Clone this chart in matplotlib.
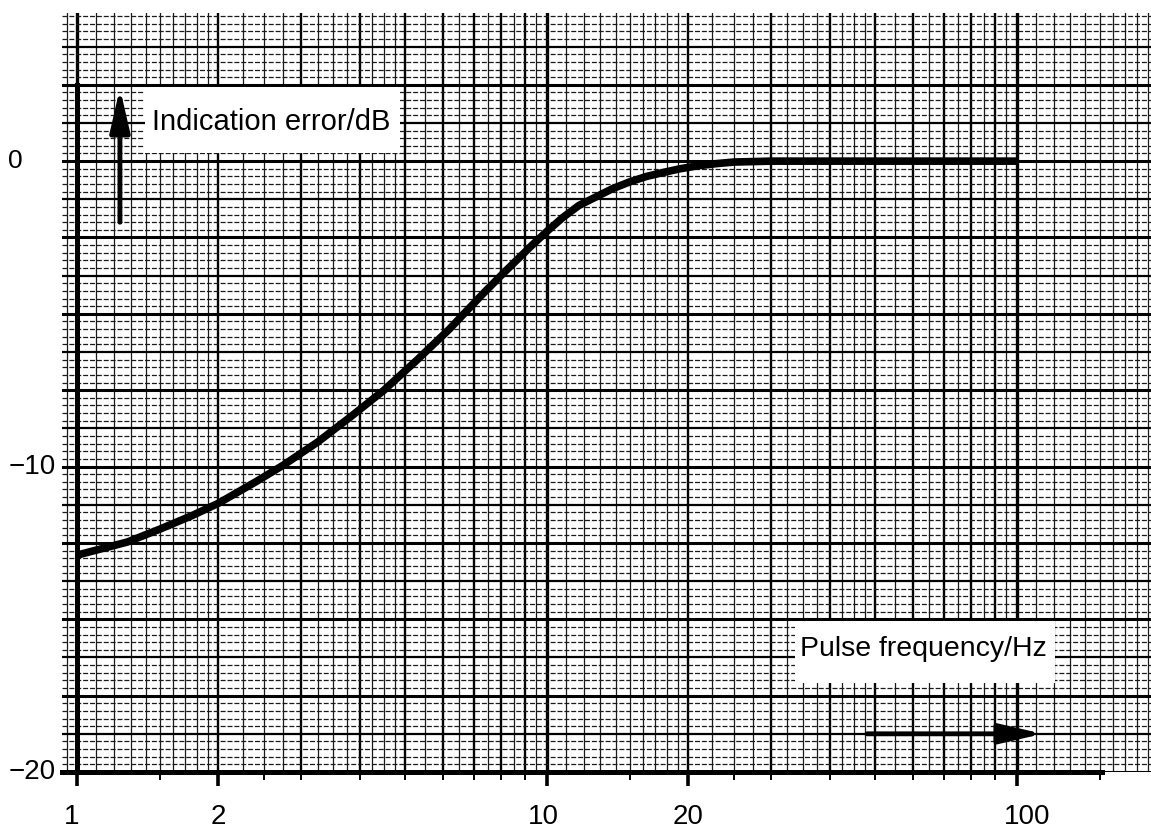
import matplotlib
matplotlib.use("Agg")

import matplotlib.pyplot as plt
import numpy as np
from matplotlib.patches import Rectangle
from matplotlib.transforms import blended_transform_factory, offset_copy

# indication error of the meter against pulse repetition frequency
freq_hz = [1.0, 1.28, 1.5, 1.76, 2.0, 2.4, 2.75, 3.25, 3.8, 4.5, 5.3, 6.2,
           7.3, 8.1, 9.3, 10.0, 10.8, 11.7, 12.8, 13.8, 15.0, 16.3, 17.7,
           19.2, 21.0, 23.0, 25.0, 30.0, 50.0, 100.0]
error_db = [-12.9, -12.47, -12.05, -11.6, -11.2, -10.5, -9.95, -9.2, -8.4,
            -7.5, -6.5, -5.5, -4.35, -3.65, -2.75, -2.3, -1.85, -1.45,
            -1.15, -0.9, -0.68, -0.5, -0.37, -0.25, -0.15, -0.08, -0.03,
            0.0, 0.0, 0.0]

x_ticks = [1, 2, 10, 20, 100]
x_tick_labels = ["1", "2", "10", "20", "100"]
x_label_shift = [-5, 0, -4, 0, 10]          # pixel nudges of the printed numbers
x_minor_ticks = [1.5, 2.5, 3, 4, 5, 6, 7, 8, 9, 15, 25, 30, 40, 50, 60,
                 70, 80, 90, 150]
y_ticks = [-20, -10, 0]
y_tick_labels = ["\u221220", "\u221210", "0"]

Y_LABEL = "Indication error/dB"
X_LABEL = "Pulse frequency/Hz"

XMIN, XMAX = 0.929, 193.0
YMIN, YMAX = -20.0, 4.85

NUM_FONT = ["Liberation Sans Narrow", "Liberation Sans", "DejaVu Sans"]
TXT_FONT = ["Liberation Sans", "DejaVu Sans"]

W, H = 1151, 832
fig = plt.figure(figsize=(W / 100, H / 100), dpi=100)
fig.patch.set_facecolor("white")
ax = fig.add_axes([62 / W, 60 / H, (W - 62) / W, (772 - 13) / H])
ax.set_xscale("log")
ax.set_xlim(XMIN, XMAX)
ax.set_ylim(YMIN, YMAX)

# --- semi-log graph paper -------------------------------------------------
for base in [0.1, 1, 10, 100]:
    fine = np.concatenate([np.arange(1, 2, 0.1), np.arange(2, 5, 0.25),
                           np.arange(5, 10, 0.5)]) * base
    for x in fine:
        if XMIN <= x <= XMAX and not np.isclose(x / base, round(x / base)):
            ax.axvline(x, color="0.1", lw=0.9, zorder=1)
    for m in range(2, 10):
        x = m * base
        if XMIN <= x <= XMAX:
            ax.axvline(x, color="black", lw=1.7, zorder=1)
    if XMIN <= base <= XMAX:
        ax.axvline(base, color="black", lw=2.4, zorder=1)

for k in range(0, int(round((YMAX - YMIN) / 0.25)) + 1):
    y = YMIN + k * 0.25
    if k % 10 == 0:
        ax.axhline(y, color="black", lw=2.2, zorder=1)
    elif k % 5 == 0:
        ax.axhline(y, color="black", lw=1.6, zorder=1)
    else:
        ax.axhline(y, color="0.1", lw=0.9, ls=(0, (4, 1.5)), zorder=1)

# --- label boxes blanking the paper ----------------------------------------
ax.add_patch(Rectangle((1.395, 0.26), 4.87 - 1.395, 2.42 - 0.26,
                       facecolor="white", edgecolor="none", zorder=2))
ax.text(1.443, 1.28, Y_LABEL, family=TXT_FONT, fontsize=21,
        ha="left", va="center", zorder=3)

ax.add_patch(Rectangle((33.8, -17.1), 120.5 - 33.8, 2.05,
                       facecolor="white", edgecolor="none", zorder=2))
ax.text(34.5, -15.97, X_LABEL, family=TXT_FONT, fontsize=20.5,
        ha="left", va="center", zorder=3)

# --- direction arrows ------------------------------------------------------
arrow_kw = dict(arrowstyle="-|>,head_length=1.3,head_width=0.3",
                color="black", lw=3.5, mutation_scale=20,
                shrinkA=0, shrinkB=0)
ax.annotate("", xy=(1.234, 2.39), xytext=(1.234, -2.0),
            arrowprops=arrow_kw, zorder=4)
ax.annotate("", xy=(113.6, -18.75), xytext=(48.0, -18.75),
            arrowprops=arrow_kw, zorder=4)

# --- measured curve ----------------------------------------------------------
ax.plot(freq_hz, error_db, color="black", lw=5.5,
        solid_capstyle="butt", solid_joinstyle="round", zorder=5)

# --- axes --------------------------------------------------------------------
for side in ["top", "right"]:
    ax.spines[side].set_visible(False)
ax.spines["left"].set_position(("data", 1.0))
ax.spines["left"].set_bounds(YMIN, 2.5)
ax.spines["left"].set_linewidth(3.6)
ax.spines["bottom"].set_bounds(XMIN, 152)
ax.spines["bottom"].set_linewidth(3.6)
for s in ax.spines.values():
    s.set_zorder(6)

ax.set_xticks(x_ticks)
ax.set_xticklabels([])
ax.set_xticks(x_minor_ticks, minor=True)
ax.xaxis.set_minor_formatter(plt.NullFormatter())
ax.tick_params(axis="x", which="major", length=10, width=2.6,
               direction="out")
ax.tick_params(axis="x", which="minor", length=6, width=1.4,
               direction="out")
ax.set_yticks([])

xtrans = blended_transform_factory(ax.transData, fig.transFigure)
for x, lab, dx in zip(x_ticks, x_tick_labels, x_label_shift):
    ax.text(x, (H - 817) / H, lab,
            transform=offset_copy(xtrans, fig=fig, x=dx, units="dots"),
            family=NUM_FONT, fontsize=20, ha="center", va="center")

ytrans = blended_transform_factory(fig.transFigure, ax.transData)
for y, lab in zip(y_ticks, y_tick_labels):
    if lab == "0":
        ax.text(15 / W, y, lab, transform=ytrans, family=NUM_FONT,
                fontsize=19, ha="center", va="center")
    else:
        ax.text(56 / W, y, lab, transform=ytrans, family=NUM_FONT,
                fontsize=20, ha="right", va="center")

fig.savefig("out.png", dpi=100, facecolor="white")
plt.close(fig)
